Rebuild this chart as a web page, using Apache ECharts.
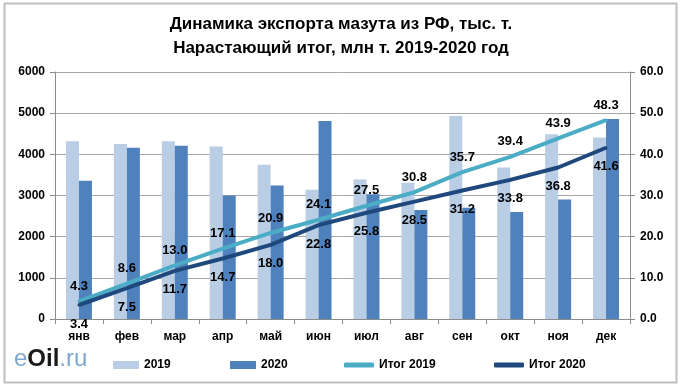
<!DOCTYPE html>
<html><head><meta charset="utf-8">
<script src="https://cdn.jsdelivr.net/npm/echarts@6/dist/echarts.min.js"></script>
<style>html,body{margin:0;padding:0;background:#fff}#c{width:682px;height:389px}</style>
</head><body><div id="c"></div>
<script>
var categories = ['янв','фев','мар','апр','май','июн','июл','авг','сен','окт','ноя','дек'];
var exp2019 = [4320, 4250, 4320, 4190, 3750, 3140, 3390, 3310, 4930, 3680, 4490, 4410];
var exp2020 = [3360, 4160, 4210, 3000, 3240, 4810, 3030, 2650, 2700, 2600, 2900, 4860];
var cum2019 = [4.3, 8.6, 13.0, 17.1, 20.9, 24.1, 27.5, 30.8, 35.7, 39.4, 43.9, 48.3];
var cum2020 = [3.4, 7.5, 11.7, 14.7, 18.0, 22.8, 25.8, 28.5, 31.2, 33.8, 36.8, 41.6];
var leftTicks = [0, 6000, 1000];
var rightTicks = [0, 60, 10];

var chart = echarts.init(document.getElementById('c'));
var ff = 'Liberation Sans, Arial, sans-serif';
function lbl(pos, dist){
  return {show: true, position: pos, distance: dist, color: '#000', fontWeight: 'bold', fontSize: 13, fontFamily: ff,
    formatter: function(p){ return Number(p.value).toFixed(1); }};
}
var legText = {color: '#000', fontWeight: 'bold', fontSize: 12, fontFamily: ff};
chart.setOption({
  animation: false,
  backgroundColor: '#fff',
  title: {
    text: 'Динамика экспорта мазута из РФ, тыс. т.\nНарастающий итог, млн т. 2019-2020 год',
    left: 'center', top: 7,
    textStyle: {fontFamily: '"Liberation Sans Narrow", "Liberation Sans", Arial, sans-serif', fontWeight: 'bold', fontSize: 17, lineHeight: 24, color: '#000'}
  },
  grid: {left: 55, right: 52, top: 72, bottom: 70},
  legend: [
    {data: [{name: '2019', icon: 'rect'}], left: 108, top: 354, itemWidth: 26, itemHeight: 8, itemGap: 4, textStyle: legText},
    {data: [{name: '2020', icon: 'rect'}], left: 225, top: 354, itemWidth: 26, itemHeight: 8, textStyle: legText},
    {data: [{name: 'Итог 2019', icon: 'roundRect'}], left: 339, top: 354, itemWidth: 30, itemHeight: 5, textStyle: legText},
    {data: [{name: 'Итог 2020', icon: 'roundRect'}], left: 489, top: 354, itemWidth: 30, itemHeight: 5, textStyle: legText}
  ],
  xAxis: {
    type: 'category', data: categories,
    axisLine: {lineStyle: {color: '#8c8c8c', width: 1}},
    axisTick: {show: true, length: 5, lineStyle: {color: '#8c8c8c'}},
    axisLabel: {color: '#000', fontWeight: 'bold', fontSize: 12, fontFamily: ff, margin: 12}
  },
  yAxis: [
    {type: 'value', min: leftTicks[0], max: leftTicks[1], interval: leftTicks[2],
     axisLine: {show: true, lineStyle: {color: '#8c8c8c'}},
     axisTick: {show: true, length: 5, lineStyle: {color: '#8c8c8c'}},
     splitLine: {lineStyle: {color: '#a6a6a6', width: 1}},
     axisLabel: {color: '#000', fontWeight: 'bold', fontSize: 12, fontFamily: ff, margin: 10,
       formatter: function(v){ return String(v); }}},
    {type: 'value', min: rightTicks[0], max: rightTicks[1], interval: rightTicks[2], position: 'right',
     axisLine: {show: true, lineStyle: {color: '#8c8c8c'}},
     axisTick: {show: true, length: 5, lineStyle: {color: '#8c8c8c'}},
     splitLine: {show: false},
     axisLabel: {color: '#000', fontWeight: 'bold', fontSize: 12, fontFamily: ff, margin: 10,
       formatter: function(v){ return v.toFixed(1); }}}
  ],
  series: [
    {name: '2019', type: 'bar', data: exp2019, barWidth: 13, barGap: '0%', itemStyle: {color: '#B9CDE5'}},
    {name: '2020', type: 'bar', data: exp2020, barWidth: 13, barGap: '0%', itemStyle: {color: '#4F81BD'}},
    {name: 'Итог 2019', type: 'line', yAxisIndex: 1, data: cum2019, symbol: 'circle', symbolSize: 3, showSymbol: true,
     lineStyle: {color: '#4BACC6', width: 4}, itemStyle: {color: '#4BACC6'},
     label: lbl('top', 7), labelLayout: {hideOverlap: false}, z: 5},
    {name: 'Итог 2020', type: 'line', yAxisIndex: 1, data: cum2020, symbol: 'circle', symbolSize: 3, showSymbol: true,
     lineStyle: {color: '#1F497D', width: 4}, itemStyle: {color: '#1F497D'},
     label: lbl('bottom', 11), labelLayout: {hideOverlap: false}, z: 6}
  ],
  graphic: [
    {type: 'rect', shape: {x: 4.5, y: 3.5, width: 672, height: 379}, style: {fill: 'none', stroke: '#bfbfbf', lineWidth: 2}, silent: true, z: -1},
    {type: 'text', left: 14, top: 347, style: {
      text: '{a|e}{b|Oil}{a|.ru}', rich: {
        a: {fill: '#7fa7cf', fontSize: 24, fontFamily: ff},
        b: {fill: '#1a1a1a', fontSize: 24, fontWeight: 'bold', fontFamily: ff}
      }}}
  ]
});
</script></body></html>
